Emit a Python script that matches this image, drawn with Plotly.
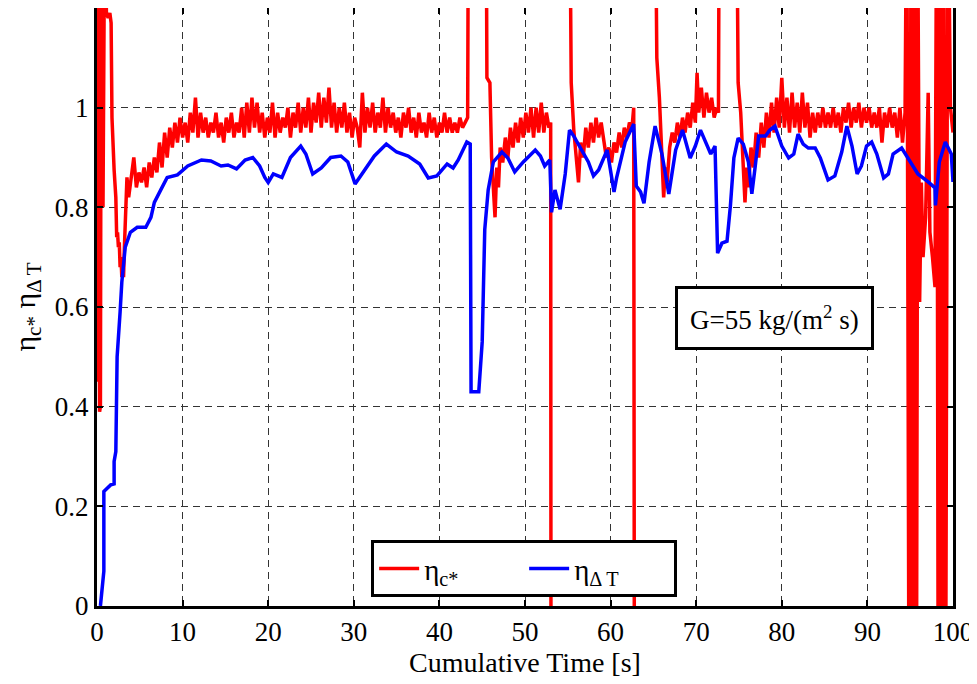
import plotly.graph_objects as go

# eta_Delta T (blue)
t_dT = [0.4, 0.8, 0.8, 1.6, 2.0, 2.0, 2.2, 2.35, 2.7, 2.9, 3.3, 3.9, 4.7, 5.7, 6.3, 6.7, 7.45, 8.2, 9.4,
        10.6, 12.2, 13.3, 14.5, 15.3, 16.3, 17.3, 18.2, 19.0, 19.6, 20.0, 20.6, 21.6, 22.6, 23.8, 24.4,
        25.2, 26.2, 27.3, 28.5, 29.3, 30.15, 31.25, 32.4, 33.8, 35.0, 36.35, 37.7, 38.7, 39.7, 40.9,
        41.6, 42.2, 42.8, 43.2, 43.6, 43.7, 44.6, 45.0, 45.3, 45.7, 46.3, 47.3, 48.0, 48.8, 49.8,
        51.2, 51.8, 52.3, 52.9, 53.1, 53.5, 54.1, 54.7, 55.2, 55.7, 56.6, 57.4, 58.0, 58.6, 59.6,
        60.4, 60.7, 61.7, 62.7, 63.0, 63.5, 63.9, 64.5, 65.2, 66.0, 66.8, 67.6, 68.4, 69.3, 69.9,
        70.5, 71.1, 71.7, 72.2, 72.5, 73.0, 73.6, 74.0, 74.4, 74.9, 75.5, 76.1, 76.5, 76.9, 77.3,
        78.1, 78.6, 79.2, 80.0, 80.8, 81.4, 81.9, 82.5, 83.1, 83.9, 84.5, 85.4, 86.2, 87.0, 87.6,
        88.2, 88.8, 89.3, 89.9, 90.5, 91.1, 91.9, 92.45, 93.0, 94.0, 95.0, 95.9, 97.1, 97.9, 97.95,
        98.4, 99.1, 99.8, 100.0]
eta_dT = [0.0, 0.07, 0.23, 0.243, 0.245, 0.29, 0.31, 0.50, 0.59, 0.65, 0.72, 0.75, 0.76, 0.76, 0.78,
          0.81, 0.835, 0.86, 0.865, 0.883, 0.895, 0.893, 0.883, 0.885, 0.877, 0.895, 0.90, 0.883,
          0.86, 0.85, 0.867, 0.86, 0.90, 0.923, 0.907, 0.867, 0.879, 0.90, 0.903, 0.891, 0.847,
          0.875, 0.903, 0.927, 0.911, 0.903, 0.887, 0.859, 0.863, 0.887, 0.879, 0.895, 0.915,
          0.931, 0.927, 0.43, 0.43, 0.53, 0.756, 0.835, 0.891, 0.911, 0.899, 0.871, 0.891,
          0.915, 0.903, 0.883, 0.895, 0.79, 0.835, 0.796, 0.867, 0.955, 0.943, 0.915, 0.891,
          0.863, 0.875, 0.915, 0.831, 0.859, 0.931, 0.967, 0.843, 0.831, 0.808, 0.891, 0.963,
          0.907, 0.827, 0.915, 0.955, 0.899, 0.923, 0.955, 0.931, 0.907, 0.923, 0.708, 0.728,
          0.732, 0.804, 0.899, 0.939, 0.927, 0.891, 0.827, 0.883, 0.943, 0.943, 0.955, 0.963,
          0.923, 0.899, 0.907, 0.947, 0.927, 0.919, 0.919, 0.899, 0.855, 0.863, 0.911, 0.963,
          0.923, 0.867, 0.883, 0.923, 0.931, 0.907, 0.859, 0.867, 0.907, 0.919, 0.891, 0.867,
          0.851, 0.839, 0.804, 0.891, 0.931, 0.907, 0.851]

# eta_c* (red); None marks where the trace leaves the axes
t_c = [0.0, 0.1, 0.2, 0.3, 0.4, 0.5, 0.6, 0.7, 0.9, 1.1, 1.3, 1.5, 1.65, 1.75, 1.9, 2.0, 2.2, 2.3,
       2.4, 2.5, 2.6, 2.7, 2.8, 2.9, 3.0, 3.1, 3.2, 3.3, 3.4, 3.5,
       3.7, 4.0, 4.3, 4.6, 4.9, 5.2, 5.5, 5.8, 6.1, 6.4, 6.7, 7.0, 7.3, 7.6, 7.9, 8.2, 8.5, 8.8,
       9.1, 9.4, 9.7, 10.0, 10.3, 10.6, 10.9, 11.2, 11.5, 11.8, 12.1, 12.4, 12.7, 13.0, 13.3,
       13.6, 13.9, 14.2, 14.5, 14.8, 15.1, 15.4, 15.7, 16.0, 16.3, 16.6, 16.9, 17.2, 17.5, 17.8,
       18.1, 18.4, 18.7, 19.0, 19.3, 19.6, 19.9, 20.2, 20.5, 20.8, 21.1, 21.4, 21.7, 22.0, 22.3,
       22.6, 22.9, 23.2, 23.5, 23.8, 24.1, 24.4, 24.7, 25.0, 25.3, 25.6, 25.9, 26.2, 26.5, 26.8,
       27.1, 27.4, 27.7, 28.0, 28.3, 28.6, 28.9, 29.2, 29.5, 29.8, 30.1, 30.4, 30.7, 31.0, 31.3,
       31.6, 31.9, 32.2, 32.5, 32.8, 33.1, 33.4, 33.7, 34.0, 34.3, 34.6, 34.9, 35.2, 35.5, 35.8,
       36.1, 36.4, 36.7, 37.0, 37.3, 37.6, 37.9, 38.2, 38.5, 38.8, 39.1, 39.4, 39.7, 40.0, 40.3,
       40.6, 40.9, 41.2, 41.5, 41.8, 42.1, 42.4, 42.7, 43.0, 43.3, 43.4,
       45.45, 45.55, 45.9, 46.1, 46.3, 46.5, 46.7, 46.9, 47.1, 47.4, 47.7, 48.0, 48.3, 48.6, 48.9,
       49.2, 49.5, 49.8, 50.1, 50.4, 50.7, 51.0, 51.3, 51.6, 51.9, 52.2, 52.5, 52.8, 53.0, 53.05,
       53.2, 53.25,
       55.2, 55.4, 55.7, 56.0, 56.25, 56.5, 56.8, 57.1, 57.4, 57.7, 58.0, 58.3, 58.6, 58.9, 59.2,
       59.5, 59.8, 60.1, 60.4, 60.7, 61.0, 61.3, 61.6, 61.9, 62.2, 62.5, 62.7, 62.8, 62.95, 63.0,
       65.2, 65.4, 65.7, 66.0, 66.2, 66.4, 66.6, 66.9, 67.2, 67.5, 67.8, 68.1, 68.4, 68.7, 69.0,
       69.3, 69.6, 69.9, 70.1, 70.3, 70.6, 70.9, 71.2, 71.5, 71.8, 72.1, 72.4, 72.6, 72.7, 74.7,
       74.9, 75.2, 75.5, 75.7, 75.9, 76.1, 76.4, 76.7, 77.0, 77.3, 77.6, 77.9, 78.2, 78.5, 78.8,
       79.1, 79.4, 79.7, 80.0, 80.3, 80.6, 80.9, 81.2, 81.5, 81.8, 82.1, 82.4, 82.7, 83.0, 83.3,
       83.6, 83.9, 84.2, 84.5, 84.8, 85.1, 85.4, 85.7, 86.0, 86.3, 86.6, 86.9, 87.2, 87.5, 87.8,
       88.1, 88.4, 88.7, 89.0, 89.3, 89.6, 89.9, 90.2, 90.5, 90.8, 91.1, 91.4, 91.7, 92.0, 92.3,
       92.6, 92.9, 93.2, 93.5, 93.8, 94.1, 94.4, 94.6, 94.9, 95.1, 95.3, 95.5, 95.7, 95.9, 96.1,
       96.3, 96.5, 96.8, 97.1, 97.3, 97.6, 97.9, 98.1, 98.3, 98.5, 98.7, 98.9, 99.1, 99.4, 99.7,
       100.0]
eta_c = [1.4, 0.45, 1.4, 0.39, 0.40, 1.4, 1.4, 0.8, 1.4, 1.19, 1.18, 1.19, 1.17, 0.98, 0.88, 0.875,
         0.82, 0.74, 0.75, 0.72, 0.73, 0.68, 0.70, 0.66, 0.70, 0.66, 0.72, 0.78, 0.80, 0.86,
         0.82, 0.86, 0.90, 0.84, 0.87, 0.85, 0.88, 0.84, 0.89, 0.86, 0.90, 0.87, 0.93, 0.88, 0.95,
         0.90, 0.96, 0.92, 0.97, 0.93, 0.98, 0.94, 0.97, 0.93, 0.99, 0.95, 1.02, 0.94, 0.99, 0.95,
         0.98, 0.94, 0.97, 0.95, 0.99, 0.94, 0.97, 0.93, 0.98, 0.95, 0.99, 0.94, 0.97, 0.95, 1.00,
         0.94, 1.01, 0.95, 1.02, 0.96, 1.01, 0.95, 0.99, 0.94, 0.98, 0.95, 1.01, 0.94, 0.99, 0.95,
         0.98, 0.96, 1.00, 0.94, 0.99, 0.96, 1.01, 0.95, 1.00, 0.96, 1.02, 0.95, 1.01, 0.97, 1.03,
         0.96, 1.02, 0.97, 1.04, 0.96, 1.01, 0.95, 1.00, 0.96, 1.01, 0.95, 0.99, 0.94, 0.98, 0.96,
         0.92, 1.03, 0.95, 1.00, 0.96, 1.01, 0.95, 0.99, 0.96, 1.02, 0.95, 1.00, 0.96, 0.99, 0.95,
         0.98, 0.94, 0.99, 0.96, 1.00, 0.95, 0.98, 0.94, 0.99, 0.95, 0.97, 0.94, 0.99, 0.95, 0.98,
         0.94, 0.97, 0.95, 0.99, 0.95, 0.98, 0.95, 0.97, 0.95, 0.98, 0.96, 0.97, 0.98, 1.5,
         1.5, 1.06, 1.05, 0.90, 0.85, 0.78, 0.88, 0.84, 0.92, 0.89, 0.94, 0.90, 0.96, 0.92, 0.97,
         0.93, 0.98, 0.94, 0.99, 0.95, 1.00, 0.94, 1.00, 0.95, 1.01, 0.95, 0.99, 0.96, 0.97, -0.5,
         -0.5, None,
         1.5, 1.05, 0.955, 0.90, 0.85, 0.93, 0.90, 0.96, 0.92, 0.97, 0.93, 0.98, 0.94, 0.97, 0.93,
         0.90, 0.92, 0.89, 0.93, 0.91, 0.95, 0.92, 0.96, 0.94, 0.97, 0.96, 1.00, -0.5, -0.5, None,
         1.5, 1.10, 1.02, 0.90, 0.82, 0.88, 0.85, 0.92, 0.95, 0.93, 0.97, 0.94, 0.98, 0.95, 0.99,
         0.96, 1.01, 0.97, 1.07, 0.99, 1.04, 0.98, 1.03, 0.99, 1.02, 0.98, 1.00, 0.99, 1.5, 1.5,
         1.05, 0.99, 0.86, 0.81, 0.88, 0.84, 0.92, 0.88, 0.95, 0.90, 0.97, 0.92, 0.99, 0.94, 1.01,
         0.95, 1.02, 0.96, 1.06, 0.96, 1.02, 0.95, 1.03, 0.96, 1.01, 0.95, 1.03, 0.96, 1.01, 0.94,
         0.99, 0.95, 0.99, 0.96, 1.00, 0.96, 0.99, 0.96, 1.00, 0.96, 0.99, 0.95, 1.00, 0.97, 1.01,
         0.96, 1.00, 0.97, 1.01, 0.96, 1.00, 0.97, 1.00, 0.96, 0.99, 0.96, 1.00, 0.93, 0.99, 0.96,
         1.00, 0.96, 0.99, 0.94, 1.00, 0.93, 0.99, 1.5, -0.5, 1.5, -0.5, 1.5, -0.5, 1.3, 0.61,
         0.85, 0.70, 0.78, 1.03, 0.75, 0.70, 0.64, 1.5, -0.5, 1.5, -0.5, 1.5, -0.5, 1.5, 1.0,
         0.95]

x_ticks = [0, 10, 20, 30, 40, 50, 60, 70, 80, 90, 100]
y_ticks = [0, 0.2, 0.4, 0.6, 0.8, 1.0]
y_tick_text = ["0", "0.2", "0.4", "0.6", "0.8", "1"]

FONT = "Liberation Serif"

fig = go.Figure()
fig.add_trace(go.Scatter(x=t_c, y=eta_c, mode="lines", name="η<sub>c*</sub>",
                         line=dict(color="#ff0000", width=3.5), connectgaps=False))
fig.add_trace(go.Scatter(x=t_dT, y=eta_dT, mode="lines", name="η<sub>Δ T</sub>",
                         line=dict(color="#0000ff", width=3.5)))

axis_common = dict(showline=True, linecolor="black", linewidth=3, mirror="ticks",
                   ticks="inside", ticklen=6, tickwidth=2, tickcolor="black",
                   showgrid=True, gridcolor="#333333", gridwidth=1, griddash="7px,5px",
                   zeroline=False, automargin=False,
                   tickfont=dict(family=FONT, size=27, color="black"))

fig.update_xaxes(range=[0, 100], tickvals=x_ticks,
                 title=dict(text="Cumulative Time [s]", font=dict(family=FONT, size=28, color="black"),
                            standoff=4),
                 **axis_common)
fig.update_yaxes(range=[0, 1.2], tickvals=y_ticks, ticktext=y_tick_text,
                 title=dict(text="η<sub>c*</sub> η<sub>Δ T</sub>", font=dict(family=FONT, size=30, color="black"),
                            standoff=18),
                 **axis_common)

fig.add_annotation(x=79.1, y=0.577, xref="x", yref="y",
                   text="G=55 kg/(m<sup>2</sup> s)", showarrow=False,
                   font=dict(family=FONT, size=27, color="black"),
                   bgcolor="white", bordercolor="black", borderwidth=3, borderpad=12)

# the page body adds an 8px offset, so the figure is sized 8px smaller
fig.update_layout(
    width=969, height=676,
    margin=dict(l=89, r=24, t=0, b=78),
    plot_bgcolor="white", paper_bgcolor="white",
    showlegend=True,
    legend=dict(orientation="h", x=0.499, xanchor="center", y=0.015, yanchor="bottom",
                bgcolor="white", bordercolor="black", borderwidth=3,
                font=dict(family=FONT, size=29, color="black"),
                entrywidth=95, itemwidth=40),
)

fig.write_html("out.html")
